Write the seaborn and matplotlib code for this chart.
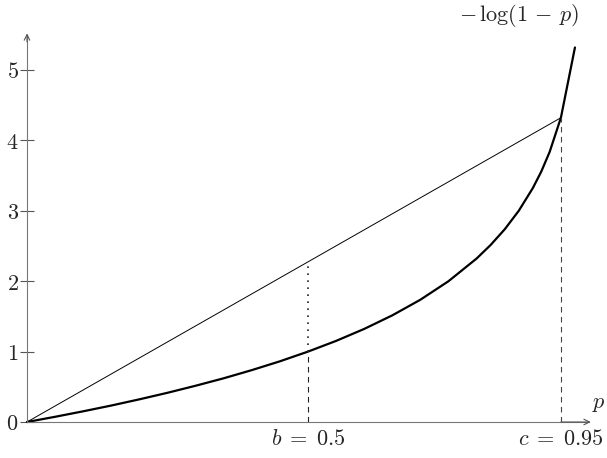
import pandas as pd
import seaborn as sns
from matplotlib import pyplot as plt

# values
p_vals = [0.0, 0.05, 0.1, 0.15, 0.2, 0.25, 0.3, 0.35, 0.4, 0.45, 0.5, 0.55,
          0.6, 0.65, 0.7, 0.75, 0.8, 0.825, 0.85, 0.875, 0.9, 0.915, 0.93,
          0.95, 0.975]
neglog_vals = [0.0, 0.074, 0.152, 0.234, 0.322, 0.415, 0.515, 0.621, 0.737,
               0.862, 1.0, 1.152, 1.322, 1.515, 1.737, 2.0, 2.322, 2.515,
               2.737, 3.0, 3.322, 3.556, 3.837, 4.322, 5.32]
b, c = 0.5, 0.95
fb, fc = 1.0, 4.322
chord_at_b = 2.275
chord_p = [0.0, c]
chord_y = [0.0, fc]
y_ticks = [0, 1, 2, 3, 4, 5]
x_tick_labels = [r'$b\;=\;0.5$', r'$c\;=\;0.95$']

sns.set_style('white')
plt.rcParams['mathtext.fontset'] = 'cm'
plt.rcParams['font.family'] = ['DejaVu Serif']

df = pd.DataFrame({'p': p_vals, 'y': neglog_vals})
chord = pd.DataFrame({'p': chord_p, 'y': chord_y})

fig = plt.figure(figsize=(6.07, 4.58), dpi=100)
ax = fig.add_axes([0, 0, 1, 1])

sns.lineplot(data=df, x='p', y='y', ax=ax, color='black', lw=1.6,
             estimator=None, sort=False)
sns.lineplot(data=chord, x='p', y='y', ax=ax, color='black', lw=0.7,
             estimator=None, sort=False)

# guide lines
ax.plot([b, b], [0, fb], color='#222222', lw=0.8, ls=(0, (5, 4)))
ax.plot([b, b], [fb, chord_at_b], color='#222222', lw=1.2,
        ls=(0, (1, 3.2)))
ax.plot([c, c], [0, fc], color='#444444', lw=0.8, ls=(0, (5, 4)))

ax.set_xlim(-27 / 562, 580 / 562)
ax.set_ylim(-36 / 70.4, 422 / 70.4)

for s in ['top', 'right']:
    ax.spines[s].set_visible(False)
for s in ['left', 'bottom']:
    ax.spines[s].set_position(('data', 0))
    ax.spines[s].set_color('#777777')
    ax.spines[s].set_linewidth(0.8)
ax.spines['left'].set_bounds(0, 5.5)
ax.spines['bottom'].set_bounds(0, 1.0)
ax.annotate('', xy=(0, 5.52), xytext=(0, 5.4),
            arrowprops=dict(arrowstyle='->', color='#555555', lw=0.8,
                            shrinkA=0, shrinkB=0))
ax.annotate('', xy=(1.003, 0), xytext=(0.95, 0),
            arrowprops=dict(arrowstyle='->', color='#555555', lw=0.8,
                            shrinkA=0, shrinkB=0))

ax.set_yticks(y_ticks)
ax.set_yticklabels([f'${t}$' for t in y_ticks], fontsize=16)
ax.tick_params(axis='y', direction='inout', length=10, width=0.8,
               color='#555555', pad=1, left=True)
ax.set_xticks([b, c])
ax.set_xticklabels(x_tick_labels, fontsize=16)
ax.tick_params(axis='x', length=0, pad=4)
ax.set_xlabel('')
ax.set_ylabel('')

ax.text(1.006, 0.12, '$p$', fontsize=16, ha='left', va='bottom')
ax.text(0.875, 5.78, r'$-\,\log(1\,-\,p)$', fontsize=16,
        ha='center', va='center')

fig.savefig('out.png', dpi=100)
